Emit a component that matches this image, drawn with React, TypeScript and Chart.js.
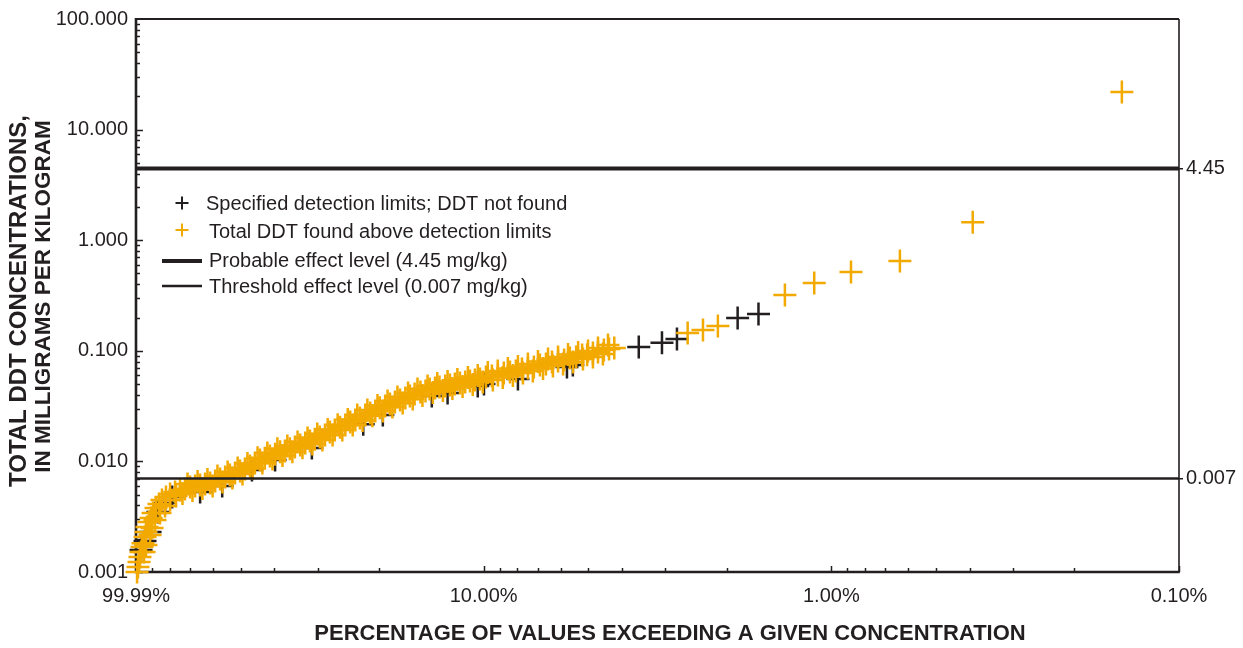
import React, { useEffect, useRef } from 'react';
import { Chart, registerables } from 'chart.js';

Chart.register(...registerables);

// Total DDT found above detection limits: exceedance percentage and concentration (mg/kg)
const foundPct = [
  99.3, 98.7, 98.0, 97.4, 96.7, 96.1, 95.5, 94.2, 93.6, 93.0, 91.8, 90.5, 89.3, 87.6, 85.9, 84.2, 82.0, 79.8, 77.2, 74.7,
  94.8, 93.6, 91.1, 89.9, 88.2, 85.3, 82.5, 79.8, 76.7,
  72.3, 69.9, 67.6, 65.4, 63.3, 61.2, 59.2, 57.3, 55.4, 53.7,
  51.9, 50.2, 48.6, 47.0, 45.5, 44.0, 42.6, 41.2, 39.8, 38.5,
  37.3, 36.1, 34.9, 33.7, 32.6, 31.6, 30.6, 29.6, 28.6, 27.7,
  26.8, 25.9, 25.0, 24.2, 23.4, 22.7, 21.9, 21.2, 20.5, 19.9,
  19.2, 18.6, 18.0, 17.4, 16.8, 16.3, 15.8, 15.2, 14.7, 14.3,
  13.8, 13.4, 12.9, 12.5, 12.1, 11.7, 11.3, 10.95, 10.6, 10.25,
  9.85, 9.47, 9.1, 8.75, 8.4, 8.08, 7.76, 7.46, 7.17, 6.89,
  6.62, 6.36, 6.11, 5.87, 5.65, 5.42, 5.21, 5.04, 4.85, 4.69,
  4.51, 4.36, 4.21,
  73.5, 71.1, 68.8, 66.5, 64.4, 62.3, 60.2, 58.3, 56.4, 54.5,
  52.8, 51.0, 49.4, 47.8, 46.2, 44.7, 43.3, 41.9, 40.5, 39.2,
  37.9, 36.7, 35.5, 34.3, 33.2, 32.1, 31.1, 30.1, 29.1, 28.1,
  27.2, 26.3, 25.5, 24.6, 23.8, 23.1, 22.3, 21.6, 20.9, 20.2,
  19.5, 18.9, 18.3, 17.7, 17.1, 16.5, 16.0, 15.5, 15.0, 14.5,
  14.0, 13.6, 13.1, 12.7, 12.3, 11.9, 11.5, 11.1, 10.75, 10.4,
  10.06, 9.73, 9.41, 9.11, 8.81, 8.52, 8.24, 7.97, 7.71, 7.46,
  7.22, 6.98, 6.75, 6.53, 6.32, 6.11, 5.91, 5.72, 5.53, 5.35,
  5.18, 5.01, 4.85, 4.69, 4.54, 4.39,
  2.59, 2.34, 2.12, 1.36, 1.12, 0.878, 0.635, 0.392, 0.146,
];
const foundConc = [
  0.001, 0.00111, 0.00123, 0.00137, 0.00152, 0.00168, 0.00182, 0.00207, 0.0023, 0.00255, 0.00283, 0.00308, 0.00342, 0.0038, 0.00413, 0.00448, 0.00476, 0.00507, 0.00529, 0.00551,
  0.00152, 0.00175, 0.00216, 0.0025, 0.00295, 0.00342, 0.00396, 0.00448, 0.00487,
  0.00563, 0.00587, 0.00599, 0.00612, 0.00625, 0.00638, 0.00665, 0.00693, 0.00722, 0.00753,
  0.00785, 0.00819, 0.00854, 0.00908, 0.00967, 0.0103, 0.0107, 0.0112, 0.0116, 0.0122,
  0.0124, 0.013, 0.0135, 0.0141, 0.0147, 0.0153, 0.0159, 0.0166, 0.0173, 0.0184,
  0.0192, 0.0204, 0.0213, 0.0227, 0.0237, 0.0247, 0.0263, 0.0274, 0.0286, 0.0305,
  0.0317, 0.0331, 0.0345, 0.0359, 0.0374, 0.039, 0.0406, 0.0424, 0.0433, 0.0451,
  0.0461, 0.0471, 0.0481, 0.0491, 0.0501, 0.0512, 0.0523, 0.0534, 0.0545, 0.0557,
  0.0581, 0.0593, 0.0604, 0.063, 0.0643, 0.0656, 0.0684, 0.0698, 0.0713, 0.0744,
  0.076, 0.0792, 0.0809, 0.0826, 0.0862, 0.088, 0.0916, 0.092, 0.0955, 0.0975,
  0.1016, 0.104, 0.106,
  0.00513, 0.00625, 0.00545, 0.00658, 0.0057, 0.00686, 0.00599, 0.00737, 0.00652, 0.00802,
  0.00708, 0.00872, 0.00769, 0.00957, 0.00863, 0.0108, 0.00967, 0.0119, 0.0105, 0.013,
  0.0113, 0.0138, 0.0122, 0.015, 0.0133, 0.0163, 0.0144, 0.0177, 0.0156, 0.0194,
  0.0173, 0.0215, 0.0192, 0.0239, 0.0213, 0.0263, 0.0234, 0.0292, 0.0258, 0.0321,
  0.0286, 0.0352, 0.0311, 0.0382, 0.0338, 0.0415, 0.0367, 0.0451, 0.0394, 0.0481,
  0.042, 0.0507, 0.0437, 0.0528, 0.0456, 0.0551, 0.0476, 0.0575, 0.0496, 0.0598,
  0.0523, 0.0636, 0.0545, 0.0656, 0.0575, 0.0691, 0.0598, 0.0721, 0.063, 0.076,
  0.0656, 0.08, 0.0691, 0.0844, 0.0728, 0.088, 0.076, 0.0926, 0.0792, 0.0965,
  0.0844, 0.0995, 0.088, 0.106, 0.0935, 0.113,
  0.145, 0.154, 0.168, 0.32, 0.41, 0.515, 0.649, 1.45, 21.9,
];

// Specified detection limits where DDT was not found
const limitPct = [
  96.7, 94.2, 91.1, 86.5, 82.5, 78.7, 65.4, 56.5, 46.4, 39.8, 31.2, 22.2,
  19.5, 14.1, 12.7, 10.4, 9.98, 7.97, 5.76, 5.54, 3.58, 3.07, 2.78, 1.86, 1.62,
];
const limitConc = [
  0.00158, 0.00191, 0.0023, 0.00349, 0.00421, 0.00476, 0.00529, 0.00599, 0.00836, 0.0103, 0.0132, 0.0217,
  0.0263, 0.039, 0.0415, 0.0481, 0.0501, 0.0557, 0.0713, 0.0744, 0.108, 0.118, 0.128, 0.198, 0.215,
];

// Sediment quality guidelines (mg/kg)
const probableEffectLevel = 4.45;
const thresholdEffectLevel = 0.007;

const xTickValues = [100, 10, 1, 0.1];
const xTickLabels = ['99.99%', '10.00%', '1.00%', '0.10%'];
const yTickValues = [0.001, 0.01, 0.1, 1, 10, 100];
const yTickLabels = ['0.001', '0.010', '0.100', '1.000', '10.000', '100.000'];
const levelTickValues = [probableEffectLevel, thresholdEffectLevel];
const levelTickLabels = ['4.45', '0.007'];

const legendLabels = [
  'Specified detection limits; DDT not found',
  'Total DDT found above detection limits',
  'Probable effect level (4.45 mg/kg)',
  'Threshold effect level (0.007 mg/kg)',
];
const xTitle = 'PERCENTAGE OF VALUES EXCEEDING A GIVEN CONCENTRATION';
const yTitleLines = ['TOTAL DDT CONCENTRATIONS,', 'IN MILLIGRAMS PER KILOGRAM'];

const INK = '#231f20';
const ORANGE = '#f2a900';
const FONT = "'Liberation Sans', Arial, Helvetica, sans-serif";

const frameAndTicks = {
  id: 'frameAndTicks',
  beforeDatasetsDraw(chart: any) {
    const { ctx, chartArea: a, scales } = chart;
    const xs = scales.x;
    const ys = scales.y;
    ctx.save();
    ctx.strokeStyle = INK;
    ctx.lineCap = 'butt';

    // inward tick marks on the bottom axis
    ctx.lineWidth = 1.5;
    for (let d = 0.1; d < 100; d *= 10) {
      for (let m = 1; m <= 9; m++) {
        const v = d * m;
        const px = Math.round(xs.getPixelForValue(v)) + 0.5;
        const len = m === 1 ? 6 : 4;
        ctx.beginPath();
        ctx.moveTo(px, a.bottom);
        ctx.lineTo(px, a.bottom - len);
        ctx.stroke();
      }
    }
    // inward tick marks on the left axis
    for (let d = 0.001; d < 100; d *= 10) {
      for (let m = 1; m <= 9; m++) {
        const v = d * m;
        const py = Math.round(ys.getPixelForValue(v)) + 0.5;
        const len = m === 1 ? 7 : 4;
        ctx.beginPath();
        ctx.moveTo(a.left, py);
        ctx.lineTo(a.left + len, py);
        ctx.stroke();
      }
    }

    // frame
    ctx.lineWidth = 2;
    ctx.beginPath();
    ctx.moveTo(a.left, a.top);
    ctx.lineTo(a.right, a.top);
    ctx.stroke();
    ctx.lineWidth = 1.6;
    ctx.beginPath();
    ctx.moveTo(a.right, a.top);
    ctx.lineTo(a.right, a.bottom);
    ctx.stroke();
    ctx.lineWidth = 2.6;
    ctx.beginPath();
    ctx.moveTo(a.left, a.top - 1);
    ctx.lineTo(a.left, a.bottom);
    ctx.lineTo(a.right + 0.8, a.bottom);
    ctx.stroke();
    ctx.restore();
  },
  afterDraw(chart: any) {
    const { ctx } = chart;
    ctx.save();
    ctx.fillStyle = INK;
    ctx.strokeStyle = INK;

    // axis titles
    ctx.font = `bold 22px ${FONT}`;
    ctx.textAlign = 'center';
    ctx.textBaseline = 'middle';
    ctx.fillText(xTitle, 670, 634);

    ctx.save();
    ctx.rotate(-Math.PI / 2);
    ctx.font = `bold 24px ${FONT}`;
    ctx.fillText(yTitleLines[0], -301, 19.5);
    ctx.font = `bold 22.5px ${FONT}`;
    ctx.fillText(yTitleLines[1], -296.5, 44);
    ctx.restore();

    // legend
    const cross = (cx: number, cy: number, color: string) => {
      ctx.strokeStyle = color;
      ctx.lineWidth = 2;
      ctx.beginPath();
      ctx.moveTo(cx - 6.5, cy);
      ctx.lineTo(cx + 6.5, cy);
      ctx.moveTo(cx, cy - 6.5);
      ctx.lineTo(cx, cy + 6.5);
      ctx.stroke();
    };
    const line = (cy: number, w: number) => {
      ctx.strokeStyle = INK;
      ctx.lineWidth = w;
      ctx.beginPath();
      ctx.moveTo(162, cy);
      ctx.lineTo(202, cy);
      ctx.stroke();
    };
    cross(182, 203, INK);
    cross(182, 230, ORANGE);
    line(261, 4);
    line(286, 2.6);
    ctx.font = `20px ${FONT}`;
    ctx.textAlign = 'left';
    ctx.textBaseline = 'middle';
    ctx.fillStyle = INK;
    ctx.fillText(legendLabels[0], 206, 204);
    ctx.fillText(legendLabels[1], 209, 232);
    ctx.fillText(legendLabels[2], 209, 261);
    ctx.fillText(legendLabels[3], 209, 287);
    ctx.restore();
  },
};

export default function App() {
  const canvasRef = useRef<HTMLCanvasElement | null>(null);

  useEffect(() => {
    document.body.style.margin = '0';
    const canvas = canvasRef.current;
    if (!canvas) return;

    const pairs = (xs: number[], ys: number[]) => xs.map((x, i) => ({ x, y: ys[i] }));
    const levelLine = (v: number) => [
      { x: 100, y: v },
      { x: 0.1, y: v },
    ];
    const crossPoints = (color: string) => ({
      pointStyle: 'cross',
      pointRadius: 11.5,
      pointHoverRadius: 11.5,
      pointBorderWidth: 2.5,
      pointBorderColor: color,
      borderColor: color,
      backgroundColor: color,
      clip: false,
    });

    // datasets listed first are painted last (on top)
    const chart = new Chart(canvas, {
      type: 'scatter',
      data: {
        datasets: [
          {
            label: legendLabels[2],
            data: levelLine(probableEffectLevel),
            showLine: true,
            borderColor: INK,
            borderWidth: 4,
            pointRadius: 0,
          },
          {
            label: legendLabels[3],
            data: levelLine(thresholdEffectLevel),
            showLine: true,
            borderColor: INK,
            borderWidth: 2.6,
            pointRadius: 0,
          },
          {
            label: legendLabels[1],
            data: pairs(foundPct, foundConc),
            ...crossPoints(ORANGE),
          },
          {
            label: legendLabels[0],
            data: pairs(limitPct, limitConc),
            ...crossPoints(INK),
          },
        ],
      },
      options: {
        responsive: false,
        animation: false,
        events: [],
        devicePixelRatio: 1,
        layout: { padding: { top: 19, left: 0, right: 0, bottom: 0 } },
        plugins: {
          legend: { display: false },
          tooltip: { enabled: false },
        },
        scales: {
          x: {
            type: 'logarithmic',
            position: 'bottom',
            reverse: true,
            min: 0.1,
            max: 100,
            grid: { display: false, drawTicks: false },
            border: { display: false },
            afterBuildTicks: (s: any) => {
              s.ticks = xTickValues.map((value) => ({ value }));
            },
            ticks: {
              autoSkip: false,
              maxRotation: 0,
              minRotation: 0,
              padding: 12,
              color: INK,
              font: { size: 20, family: FONT },
              callback: (_v: any, i: number) => xTickLabels[i],
            },
            afterFit: (s: any) => {
              s.height = 76;
              s.paddingLeft = 0;
              s.paddingRight = 0;
            },
          },
          y: {
            type: 'logarithmic',
            position: 'left',
            min: 0.001,
            max: 100,
            grid: { display: false, drawTicks: false },
            border: { display: false },
            afterBuildTicks: (s: any) => {
              s.ticks = yTickValues.map((value) => ({ value }));
            },
            ticks: {
              autoSkip: false,
              padding: 8,
              color: INK,
              font: { size: 20, family: FONT },
              callback: (_v: any, i: number) => yTickLabels[i],
            },
            afterFit: (s: any) => {
              s.width = 136;
              s.paddingTop = 0;
              s.paddingBottom = 0;
            },
          },
          yr: {
            type: 'logarithmic',
            position: 'right',
            min: 0.001,
            max: 100,
            grid: { display: true, drawOnChartArea: false, drawTicks: true, tickLength: 4, color: INK, lineWidth: 1.5 },
            border: { display: false },
            afterBuildTicks: (s: any) => {
              s.ticks = levelTickValues.map((value) => ({ value }));
            },
            ticks: {
              autoSkip: false,
              padding: 3,
              color: INK,
              font: { size: 20, family: FONT },
              callback: (_v: any, i: number) => levelTickLabels[i],
            },
            afterFit: (s: any) => {
              s.width = 64;
              s.paddingTop = 0;
              s.paddingBottom = 0;
            },
          },
        },
      },
      plugins: [frameAndTicks],
    } as any);

    return () => chart.destroy();
  }, []);

  return (
    <div style={{ position: 'absolute', left: 0, top: 0, width: 1243, height: 648, background: '#fff' }}>
      <canvas ref={canvasRef} width={1243} height={648} />
    </div>
  );
}
